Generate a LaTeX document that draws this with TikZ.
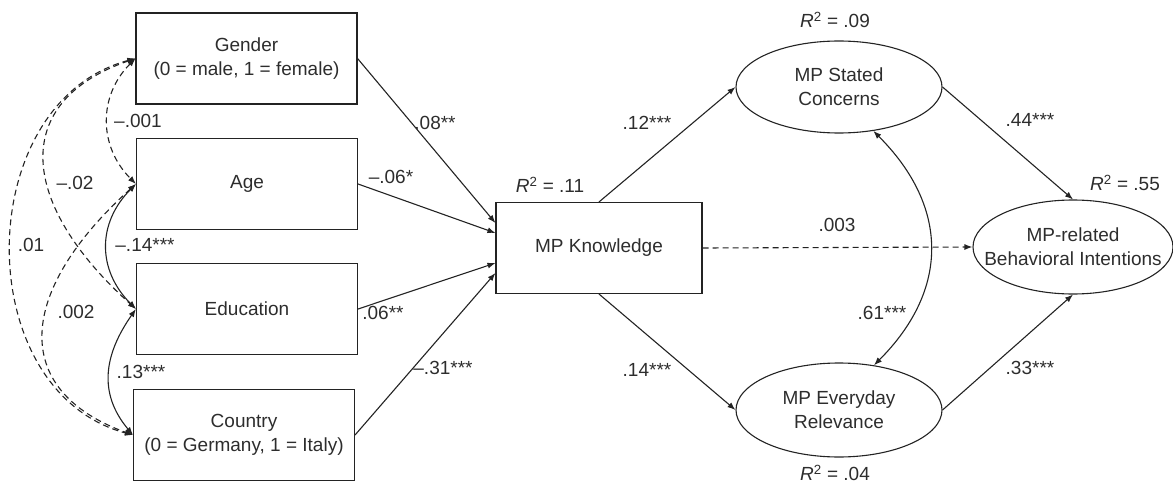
\documentclass[tikz,border=0pt]{standalone}
\usepackage{fontspec}
\setmainfont{Liberation Sans}
\usepackage{tikz}
\usetikzlibrary{arrows.meta, shapes.geometric, positioning, calc}
\definecolor{PathGray}{RGB}{35,35,35}
\definecolor{LabelGray}{RGB}{45,45,45}

\begin{document}
\begin{tikzpicture}[x=1pt,y=1pt,
	font=\fontsize{19}{24}\selectfont, text=LabelGray,
	>={Latex[length=8pt,width=6pt]},
	obs/.style={draw=PathGray,line width=1.1pt,rectangle,align=center,
		minimum width=221pt,minimum height=91pt,inner sep=0pt},
	lat/.style={draw=PathGray,line width=1.1pt,ellipse,align=center,
		minimum width=206pt,minimum height=92pt,inner sep=0pt},
	reg/.style={draw=PathGray,line width=1.1pt,->},
	cov/.style={draw=PathGray,line width=1.1pt,<->},
	nsig/.style={dash pattern=on 6pt off 4pt},
	coef/.style={inner sep=0pt}]
\useasboundingbox (0,0) rectangle (1173,483);
% predictors
\node[obs] (gen) at (246.5,424.5) {Gender\\(0 = male, 1 = female)};
\node[obs] (age) at (247,299) {Age};
\node[obs] (edu) at (247,174) {Education};
\node[obs] (cty) at (244,48) {Country\\(0 = Germany, 1 = Italy)};
% mediator and outcomes
\node[obs,minimum width=206pt] (know) at (599,235) {MP Knowledge};
\node[lat] (conc) at (839,396) {MP Stated\\Concerns};
\node[lat,minimum height=94pt] (rel) at (839,73) {MP Everyday\\Relevance};
\node[lat,minimum width=200pt,minimum height=94pt,inner xsep=-22pt] (intent) at (1073,236) {MP-related\\Behavioral Intentions};
% R squared
\node[coef] (r2know) at (550,298) {\textit{R}\textsuperscript{2} = .11};
\node[coef] (r2conc) at (835,463) {\textit{R}\textsuperscript{2} = .09};
\node[coef] (r2rel) at (835,10) {\textit{R}\textsuperscript{2} = .04};
\node[coef] (r2intent) at (1125,300) {\textit{R}\textsuperscript{2} = .55};
% regression paths
\draw[reg] (gen.east) -- ([yshift=25pt]know.west);
\draw[reg] (age.east) -- ([yshift=15pt]know.west);
\draw[reg] (edu.east) -- ([yshift=-15pt]know.west);
\draw[reg] (cty.east) -- ([yshift=-25pt]know.west);
\draw[reg] (know.north) -- (conc.west);
\draw[reg] (know.south) -- (rel.west);
\draw[reg,nsig] (know.east) -- (intent.west);
\draw[reg] (conc.east) -- (intent.north);
\draw[reg] (rel.east) -- (intent.south);
\node[coef] (bgen) at (435,360) {.08**};
\node[coef] (bage) at (391,306) {–.06*};
\node[coef] (bedu) at (383,170) {.06**};
\node[coef] (bcty) at (443,115) {–.31***};
\node[coef] (bconc) at (647,360) {.12***};
\node[coef] (brel) at (647,113) {.14***};
\node[coef] (bdir) at (837,258) {.003};
\node[coef] (bci) at (1030,363) {.44***};
\node[coef] (bri) at (1030,115) {.33***};
% covariances
\draw[cov] (conc.-52) to[out=-45,in=45,distance=107pt] (rel.52);
\node[coef] (ccr) at (882,170) {.61***};
\draw[cov,nsig] (gen.west) to[out=225,in=135,distance=53pt] (age.west);
\draw[cov,nsig] (gen.west) to[out=199,in=138,out distance=133pt,in distance=158pt] (edu.west);
\draw[cov,nsig] (gen.west) to[out=195,in=165,distance=170pt] (cty.west);
\draw[cov] (age.west) to[out=225,in=135,distance=55pt] (edu.west);
\draw[cov,nsig] (age.west) to[out=222,in=160,out distance=158pt,in distance=133pt] (cty.west);
\draw[cov] (edu.west) to[out=235,in=130,distance=55pt] (cty.west);
\node[coef] (cga) at (138,362) {–.001};
\node[coef] (cge) at (75,300) {–.02};
\node[coef] (cgc) at (31,238) {.01};
\node[coef] (cae) at (145,238) {–.14***};
\node[coef] (cac) at (76,171) {.002};
\node[coef] (cec) at (141,111) {.13***};
\end{tikzpicture}
\end{document}
